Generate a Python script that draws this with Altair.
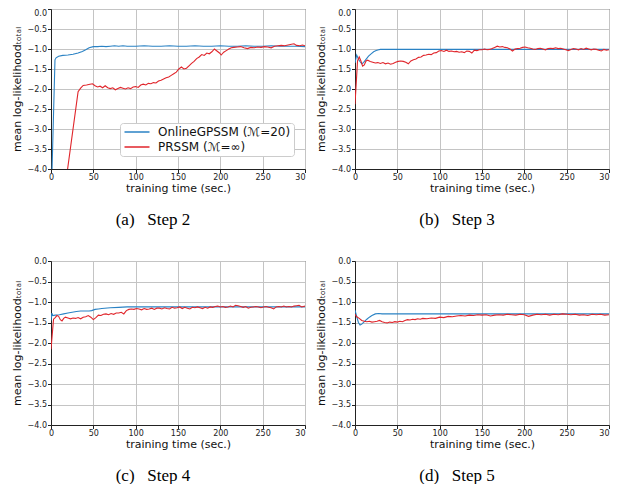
import altair as alt
import pandas as pd

SERIES = ["OnlineGPSSM (ℳ=20)", "PRSSM (ℳ=∞)"]
COLORS = ["#2a82c4", "#e0252b"]
CAPTIONS = ["(a)\u00a0\u00a0 Step 2", "(b)\u00a0\u00a0 Step 3", "(c)\u00a0\u00a0 Step 4", "(d)\u00a0\u00a0 Step 5"]
X_TICKS = [0, 50, 100, 150, 200, 250, 300]
Y_TICKS = [-4.0, -3.5, -3.0, -2.5, -2.0, -1.5, -1.0, -0.5, 0.0]
X_TITLE = "training time (sec.)"
Y_TITLE = "mean log-likelihoodₜₒₜₐₗ"

# ---- Step 2 ----
a_blue_t = [0, 4.7, 6, 9, 14, 20, 26, 32, 37, 41, 45, 50, 55, 60, 65, 70, 75, 80, 85, 90, 100, 110,
            120, 130, 140, 150, 160, 170, 180, 190, 200, 210, 220, 230, 240, 250, 260, 270, 280, 290, 300]
a_blue_v = [-5.0, -1.27, -1.22, -1.18, -1.16, -1.15, -1.13, -1.10, -1.06, -1.02, -0.97, -0.94, -0.94,
            -0.93, -0.94, -0.93, -0.92, -0.93, -0.92, -0.93, -0.93, -0.92, -0.93, -0.93, -0.92, -0.93,
            -0.93, -0.92, -0.93, -0.93, -0.92, -0.93, -0.93, -0.92, -0.93, -0.93, -0.92, -0.93, -0.93,
            -0.93, -0.94]
a_red_t = [10, 32, 35, 38, 42, 46, 49, 52, 55, 58, 61, 64, 67, 70, 73, 76, 79, 82, 85, 88, 91, 94, 97,
           100, 103, 106, 109, 112, 115, 118, 121, 124, 127, 130, 133, 136, 139, 142, 145, 148, 151,
           154, 157, 160, 163, 166, 169, 172, 175, 178, 181, 184, 187, 190, 193, 196, 199, 201, 204,
           207, 210, 213, 216, 220, 224, 228, 232, 236, 240, 244, 248, 252, 256, 260, 264, 268, 272,
           276, 280, 284, 287, 290, 294, 297, 300]
a_red_v = [-5.5, -2.07, -1.98, -1.91, -1.90, -1.88, -1.87, -1.92, -1.95, -1.93, -1.97, -1.92, -1.97,
           -1.99, -1.97, -2.02, -1.99, -1.96, -1.98, -2.00, -1.97, -1.99, -1.95, -1.94, -1.96, -1.90,
           -1.88, -1.90, -1.86, -1.87, -1.84, -1.85, -1.80, -1.78, -1.75, -1.72, -1.70, -1.66, -1.62,
           -1.58, -1.50, -1.45, -1.50, -1.48, -1.42, -1.36, -1.31, -1.24, -1.20, -1.14, -1.16, -1.10,
           -1.12, -1.07, -1.00, -1.05, -1.10, -1.15, -1.08, -1.04, -1.00, -0.97, -0.96, -0.95, -0.94,
           -0.97, -0.99, -0.96, -0.97, -0.95, -0.96, -0.94, -0.95, -0.97, -0.93, -0.92, -0.91, -0.92,
           -0.90, -0.88, -0.87, -0.91, -0.92, -0.90, -0.92]

# ---- Step 3 ----
b_blue_t = [0, 1, 2, 4, 6, 8, 10, 13, 16, 19, 22, 25, 28, 30, 40, 60, 80, 100, 120, 140, 160, 180,
            200, 220, 240, 260, 280, 300]
b_blue_v = [-1.35, -1.25, -1.15, -1.25, -1.32, -1.37, -1.34, -1.26, -1.18, -1.12, -1.07, -1.04, -1.02,
            -1.01, -1.01, -1.01, -1.01, -1.01, -1.01, -1.01, -1.01, -1.01, -1.01, -1.01, -1.01, -1.01,
            -1.01, -1.01]
b_red_t = [0, 3, 5, 7, 9, 11, 13, 15, 18, 21, 24, 27, 30, 33, 36, 39, 42, 45, 48, 51, 54, 57, 60, 63,
           66, 69, 72, 75, 78, 81, 84, 87, 90, 93, 96, 99, 102, 105, 108, 111, 114, 117, 120, 123, 126,
           129, 132, 135, 138, 141, 144, 147, 150, 153, 156, 159, 162, 165, 168, 171, 174, 177, 180,
           183, 186, 189, 192, 195, 198, 201, 204, 207, 210, 213, 216, 219, 222, 225, 228, 231, 234,
           237, 240, 243, 246, 249, 252, 255, 258, 261, 264, 267, 270, 273, 276, 279, 282, 285, 288,
           291, 294, 297, 300]
b_red_v = [-2.38, -1.30, -1.20, -1.30, -1.43, -1.40, -1.30, -1.28, -1.31, -1.33, -1.35, -1.34, -1.36,
           -1.34, -1.37, -1.35, -1.38, -1.36, -1.33, -1.31, -1.30, -1.31, -1.33, -1.37, -1.30, -1.27,
           -1.25, -1.21, -1.20, -1.16, -1.15, -1.13, -1.14, -1.10, -1.09, -1.05, -1.04, -1.06, -1.03,
           -1.06, -1.05, -1.07, -1.06, -1.08, -1.07, -1.09, -1.05, -1.06, -1.10, -1.03, -1.04, -1.02,
           -1.02, -1.00, -1.02, -1.01, -0.99, -0.96, -0.93, -0.95, -0.94, -0.96, -0.97, -1.00, -1.05,
           -1.00, -0.99, -0.98, -0.96, -0.95, -0.97, -0.98, -1.00, -1.01, -0.99, -0.98, -1.00, -1.02,
           -0.99, -0.98, -0.99, -0.97, -0.99, -0.98, -1.00, -1.02, -1.04, -1.01, -0.99, -1.00, -1.02,
           -0.99, -1.01, -0.98, -1.00, -1.02, -1.00, -1.01, -1.03, -1.05, -1.01, -1.03, -1.02]

# ---- Step 4 ----
c_blue_t = [0, 1, 2, 5, 10, 15, 20, 25, 30, 35, 40, 45, 48, 52, 56, 60, 70, 80, 90, 100, 120, 140, 160,
            180, 200, 220, 240, 260, 280, 300]
c_blue_v = [-1.45, -1.27, -1.33, -1.32, -1.31, -1.29, -1.27, -1.25, -1.23, -1.22, -1.22, -1.22, -1.21,
            -1.18, -1.17, -1.16, -1.14, -1.13, -1.12, -1.12, -1.12, -1.12, -1.12, -1.12, -1.12, -1.12,
            -1.12, -1.12, -1.12, -1.12]
c_red_t = [0, 3, 5, 7, 9, 11, 13, 15, 17, 20, 23, 26, 29, 32, 35, 38, 41, 44, 47, 50, 53, 56, 59, 62,
           65, 68, 71, 74, 77, 80, 83, 86, 89, 92, 95, 98, 101, 104, 107, 110, 113, 116, 119, 122, 125,
           128, 131, 134, 137, 140, 143, 146, 149, 152, 155, 158, 161, 164, 167, 170, 173, 176, 179,
           182, 185, 188, 191, 194, 197, 200, 203, 206, 209, 212, 215, 218, 221, 224, 227, 230, 233,
           236, 239, 242, 245, 248, 251, 254, 257, 260, 263, 266, 269, 272, 275, 278, 281, 284, 287,
           290, 293, 296, 300]
c_red_v = [-2.15, -1.42, -1.38, -1.33, -1.35, -1.43, -1.46, -1.40, -1.37, -1.39, -1.41, -1.39, -1.40,
           -1.38, -1.41, -1.37, -1.36, -1.33, -1.37, -1.43, -1.38, -1.32, -1.33, -1.30, -1.29, -1.31,
           -1.28, -1.30, -1.27, -1.27, -1.25, -1.29, -1.21, -1.18, -1.17, -1.18, -1.16, -1.17, -1.19,
           -1.16, -1.18, -1.17, -1.15, -1.18, -1.15, -1.15, -1.17, -1.14, -1.16, -1.17, -1.13, -1.15,
           -1.14, -1.12, -1.16, -1.13, -1.15, -1.17, -1.13, -1.14, -1.12, -1.14, -1.16, -1.13, -1.15,
           -1.12, -1.13, -1.11, -1.10, -1.12, -1.11, -1.13, -1.12, -1.10, -1.12, -1.08, -1.09, -1.11,
           -1.13, -1.11, -1.15, -1.13, -1.12, -1.11, -1.12, -1.14, -1.12, -1.11, -1.13, -1.14, -1.17,
           -1.12, -1.11, -1.12, -1.10, -1.12, -1.11, -1.12, -1.10, -1.09, -1.08, -1.12, -1.10]

# ---- Step 5 ----
d_blue_t = [0, 2, 4, 6, 8, 11, 14, 17, 20, 24, 28, 32, 40, 60, 80, 100, 120, 140, 160, 180, 200, 220,
            240, 260, 280, 300]
d_blue_v = [-1.20, -1.35, -1.50, -1.56, -1.54, -1.48, -1.42, -1.37, -1.33, -1.29, -1.28, -1.29, -1.29,
            -1.29, -1.29, -1.29, -1.29, -1.29, -1.29, -1.29, -1.29, -1.29, -1.29, -1.29, -1.29, -1.29]
d_red_t = [0, 2, 5, 8, 11, 14, 17, 20, 23, 26, 29, 32, 35, 38, 41, 44, 47, 50, 53, 56, 59, 62, 65, 68,
           71, 74, 77, 80, 85, 90, 95, 100, 105, 110, 115, 120, 125, 130, 135, 140, 145, 150, 155, 160,
           165, 170, 175, 180, 185, 190, 195, 200, 205, 210, 215, 220, 225, 230, 235, 240, 245, 250,
           255, 260, 265, 270, 275, 280, 285, 290, 295, 300]
d_red_v = [-1.30, -1.36, -1.40, -1.45, -1.47, -1.48, -1.47, -1.49, -1.48, -1.47, -1.45, -1.48, -1.50,
           -1.51, -1.49, -1.50, -1.48, -1.49, -1.47, -1.48, -1.45, -1.43, -1.44, -1.42, -1.43, -1.41,
           -1.42, -1.40, -1.41, -1.39, -1.40, -1.37, -1.38, -1.35, -1.36, -1.34, -1.33, -1.34, -1.32,
           -1.33, -1.31, -1.32, -1.31, -1.34, -1.32, -1.31, -1.32, -1.30, -1.31, -1.32, -1.30, -1.31,
           -1.35, -1.32, -1.30, -1.31, -1.30, -1.32, -1.30, -1.31, -1.29, -1.30, -1.31, -1.30, -1.32,
           -1.31, -1.33, -1.30, -1.31, -1.30, -1.32, -1.31]


def make_df(bt, bv, rt, rv):
    return pd.concat([
        pd.DataFrame({"t": bt, "v": bv, "series": SERIES[0]}),
        pd.DataFrame({"t": rt, "v": rv, "series": SERIES[1]}),
    ], ignore_index=True)


def panel(df, caption, show_legend, height, top_label_shift):
    if show_legend:
        legend = alt.Legend(
            title=None, orient="none", legendX=69, legendY=114,
            symbolType="M-2.5,0H2.5", symbolSize=100, symbolStrokeWidth=1.5,
            symbolOffset=8, labelOffset=15,
            labelFont="DejaVu Sans", labelFontSize=12, labelColor="#111",
            padding=3, rowPadding=3, strokeColor="#cccccc", fillColor="white",
            cornerRadius=3,
        )
    else:
        legend = None
    y_axis = alt.Axis(values=Y_TICKS, format=".1f", titlePadding=5)
    if top_label_shift:
        y_axis = alt.Axis(values=Y_TICKS, format=".1f", titlePadding=5,
                          labelOffset={"condition": {"test": "datum.value == 0", "value": top_label_shift},
                                       "value": 0})
    base = alt.Chart(df).mark_line(strokeWidth=1.1, clip=True).encode(
        x=alt.X("t:Q", scale=alt.Scale(domain=[0, 300], nice=False, zero=False),
                title=X_TITLE,
                axis=alt.Axis(values=X_TICKS, format="d", labelFlush=False,
                              labelExpr="datum.value == 300 ? '30' : datum.label",
                              labelAlign={"condition": {"test": "datum.value == 300", "value": "right"},
                                          "value": "center"},
                              titlePadding=1)),
        y=alt.Y("v:Q", scale=alt.Scale(domain=[-4, 0], nice=False, zero=False),
                title=Y_TITLE, axis=y_axis),
        color=alt.Color("series:N", scale=alt.Scale(domain=SERIES, range=COLORS), legend=legend),
    )
    blue = base.transform_filter(alt.datum.series == SERIES[0])
    red = base.transform_filter(alt.datum.series == SERIES[1])
    return alt.layer(blue, red).properties(
        width=254, height=height,
        title=alt.TitleParams(caption, orient="bottom", anchor="middle", font="Liberation Serif",
                              fontSize=17, fontWeight="normal", color="black", offset=18, dx=-25),
    )


pa = panel(make_df(a_blue_t, a_blue_v, a_red_t, a_red_v), CAPTIONS[0], True, 160, 4)
pb = panel(make_df(b_blue_t, b_blue_v, b_red_t, b_red_v), CAPTIONS[1], False, 160, 4)
pc = panel(make_df(c_blue_t, c_blue_v, c_red_t, c_red_v), CAPTIONS[2], False, 164, 0)
pd_ = panel(make_df(d_blue_t, d_blue_v, d_red_t, d_red_v), CAPTIONS[3], False, 164, 0)

row1 = alt.hconcat(pa, pb, spacing=8).resolve_scale(color="independent")
row2 = alt.hconcat(pc, pd_, spacing=8).resolve_scale(color="independent")

chart = alt.vconcat(row1, row2, spacing=28).resolve_scale(color="independent").properties(
    padding={"left": 2, "top": 0, "right": 0, "bottom": 0},
    background="white",
).configure_view(
    stroke="#222", strokeWidth=1
).configure_axis(
    labelFont="DejaVu Sans", labelFontSize=8, labelColor="#222",
    titleFont="DejaVu Sans", titleFontSize=11, titleFontWeight="normal", titleColor="#111",
    tickColor="#222", tickSize=3.5, domainColor="#222", gridColor="#c4c4c4", gridWidth=1,
    labelPadding=1,
)

chart.save("out.html", embed_options={"renderer": "svg", "actions": False})
